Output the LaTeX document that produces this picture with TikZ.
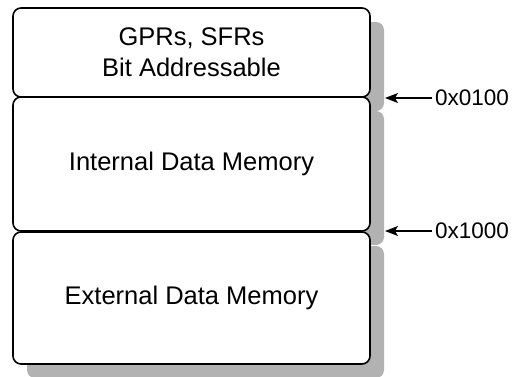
\documentclass[tikz,border=0pt]{standalone}
\usepackage{fontspec}
\setmainfont{Liberation Sans}
\usetikzlibrary{shadows,arrows.meta}

\tikzset{
  membox/.style={
    draw=black, line width=1.6pt, fill=white, rounded corners=8pt,
    minimum width=357pt, inner sep=0pt, outer sep=0pt,
    align=center, font=\fontsize{25.5}{31}\selectfont,
    drop shadow={shadow xshift=14pt, shadow yshift=-14pt,
                 fill=black!30, opacity=1}
  },
  addrlabel/.style={anchor=west, inner sep=3pt, font=\fontsize{22.5}{27}\selectfont},
  addrarrow/.style={line width=1.2pt, -{Stealth[length=13pt,width=10pt,inset=3pt]}}
}

\begin{document}
\begin{tikzpicture}[x=1pt,y=-1pt]
  \useasboundingbox (0,0) rectangle (515,376);
  \clip (0,0) rectangle (515,376);

  % memory regions, top to bottom
  \node[membox, minimum height=89pt]  (regs) at (191.5,52.5) {GPRs, SFRs\\Bit Addressable};
  \node[membox, minimum height=134pt] (idata) at (191.5,164) {Internal Data Memory};
  \node[membox, minimum height=132pt] (xdata) at (191.5,298) {External Data Memory};

  % boundary addresses
  \coordinate (tipA) at (385,98);
  \coordinate (tipB) at (385,231);
  \node[addrlabel] (addrA) at (432,98) {0x0100};
  \node[addrlabel] (addrB) at (432,231) {0x1000};
  \draw[addrarrow] (addrA.west) -- (tipA);
  \draw[addrarrow] (addrB.west) -- (tipB);
\end{tikzpicture}
\end{document}
